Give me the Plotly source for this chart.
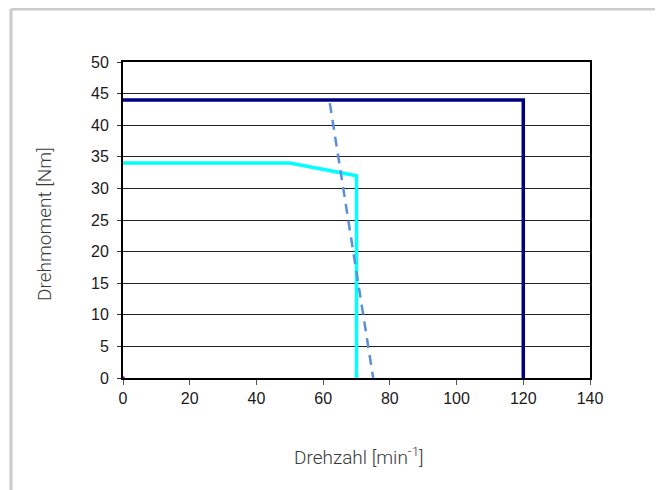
import plotly.graph_objects as go

# Data
navy_x = [0, 120, 120]
navy_y = [44, 44, 0]
cyan_x = [0, 50, 70, 70]
cyan_y = [34, 34, 32, 0]
dash_x = [62, 75]
dash_y = [43.5, 0]
x_ticks = [0, 20, 40, 60, 80, 100, 120, 140]
y_ticks = [0, 5, 10, 15, 20, 25, 30, 35, 40, 45, 50]

OFF = 8  # page body margin
W, H = 663 - OFF, 490 - OFF
L, R, T, B = 123 - OFF, 590 - OFF, 62 - OFF, 378 - OFF

def px_x(p):
    return (p - OFF - L) / (R - L)

def px_y(p):
    return (B - (p - OFF)) / (B - T)

fig = go.Figure()
fig.add_trace(go.Scatter(x=navy_x, y=navy_y, mode="lines",
                         line=dict(color="#000080", width=3.5), cliponaxis=False))
fig.add_trace(go.Scatter(x=cyan_x, y=cyan_y, mode="lines",
                         line=dict(color="#00FFFF", width=3.5), cliponaxis=False))
fig.add_trace(go.Scatter(x=dash_x, y=dash_y, mode="lines",
                         line=dict(color="#5B8FD9", width=2.5, dash="10px,7px"), cliponaxis=False))
fig.add_trace(go.Scatter(x=[0], y=[0], mode="markers",
                         marker=dict(color="#FF00FF", size=4), cliponaxis=False))

tickfont = dict(family="Liberation Sans, Arial, sans-serif", size=16, color="#1a1a1a")
titlefont = dict(family="Roboto, Noto Sans, sans-serif", size=19, color="#3a3a3a", weight=300)

fig.update_layout(
    width=W, height=H,
    margin=dict(l=L, r=W - R, t=T, b=H - B),
    paper_bgcolor="white", plot_bgcolor="white",
    showlegend=False,
    xaxis=dict(range=[0, 140], tickvals=x_ticks, ticks="outside", ticklen=5,
               tickcolor="#555555", tickfont=tickfont, showgrid=False, zeroline=False,
               showline=True, linecolor="#000000", linewidth=2, mirror=True, fixedrange=True),
    yaxis=dict(range=[0, 50], tickvals=y_ticks, ticks="outside", ticklen=4,
               tickcolor="#333333", tickfont=tickfont, showgrid=True, gridcolor="#222222",
               gridwidth=1, zeroline=False, showline=True, linecolor="#000000",
               linewidth=2, mirror=True, fixedrange=True, ticklabelstandoff=5),
    annotations=[
        dict(text="Drehmoment [Nm]", x=px_x(44), y=px_y(224), xref="paper", yref="paper",
             textangle=-90, showarrow=False, font=titlefont, xanchor="center", yanchor="middle"),
        dict(text="Drehzahl [min<sup>-1</sup>]", x=px_x(359), y=px_y(456), xref="paper", yref="paper",
             showarrow=False, font=titlefont, xanchor="center", yanchor="middle"),
    ],
    shapes=[
        dict(type="line", xref="paper", yref="paper", x0=px_x(11), x1=px_x(11),
             y0=px_y(500), y1=px_y(OFF + 1), line=dict(color="#cccccc", width=3)),
        dict(type="line", xref="paper", yref="paper", x0=px_x(11), x1=px_x(680),
             y0=px_y(OFF + 1), y1=px_y(OFF + 1), line=dict(color="#cccccc", width=3)),
    ],
)

fig.write_html("out.html")
